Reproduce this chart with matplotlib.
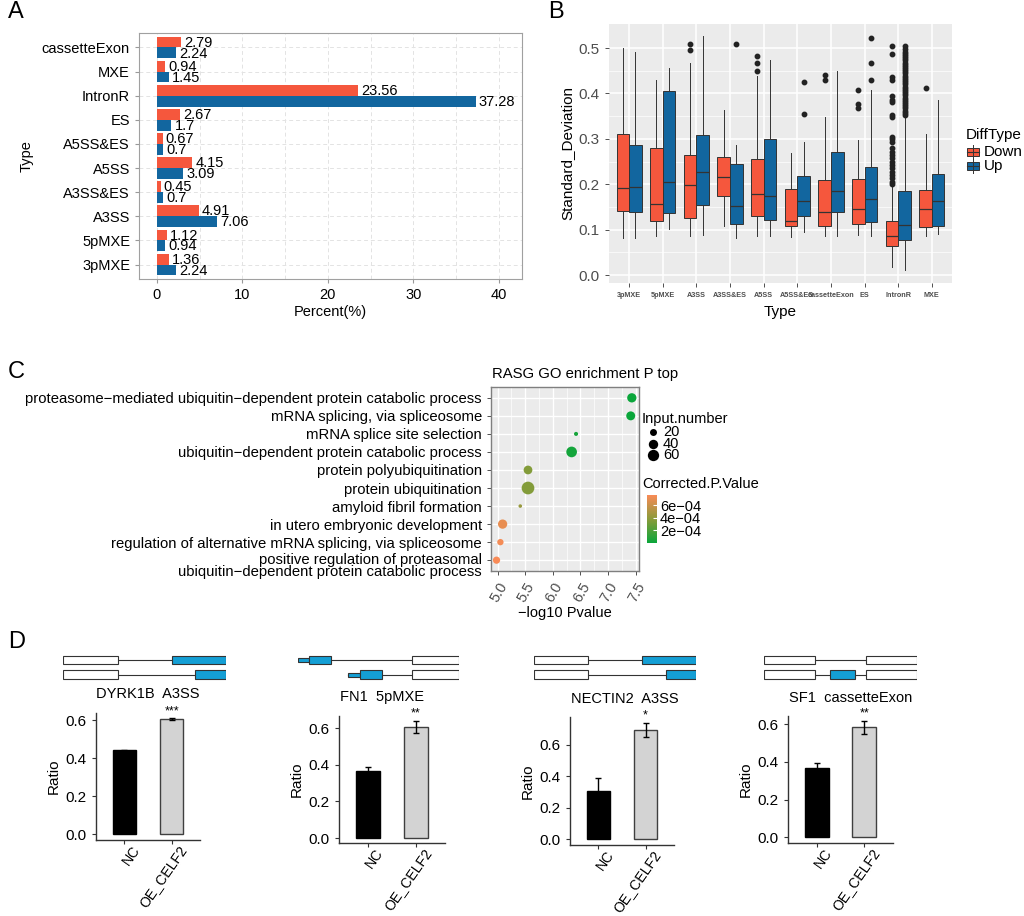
import matplotlib
matplotlib.use('Agg')
import matplotlib.pyplot as plt
import numpy as np
from matplotlib.patches import Rectangle
from matplotlib.colors import LinearSegmentedColormap, Normalize
from matplotlib.cm import ScalarMappable
from matplotlib.transforms import ScaledTranslation

plt.rcParams['font.family'] = ['Liberation Sans', 'DejaVu Sans']

W, H = 1024, 916
RED = '#F5573D'
BLUE = '#12669F'
GENE_BLUE = '#149FD5'

# ---------------- data ----------------
# panel A
types_a = ['3pMXE', '5pMXE', 'A3SS', 'A3SS&ES', 'A5SS', 'A5SS&ES', 'ES', 'IntronR', 'MXE', 'cassetteExon']
pct_down = [1.36, 1.12, 4.91, 0.45, 4.15, 0.67, 2.67, 23.56, 0.94, 2.79]
pct_up = [2.24, 0.94, 7.06, 0.7, 3.09, 0.7, 1.7, 37.28, 1.45, 2.24]

# panel B  (whislo, q1, med, q3, whishi)
types_b = ['3pMXE', '5pMXE', 'A3SS', 'A3SS&ES', 'A5SS', 'A5SS&ES', 'cassetteExon', 'ES', 'IntronR', 'MXE']
sd_down = [(0.081, 0.141, 0.192, 0.311, 0.500),
           (0.085, 0.118, 0.156, 0.280, 0.430),
           (0.087, 0.126, 0.199, 0.264, 0.467),
           (0.109, 0.173, 0.217, 0.259, 0.363),
           (0.087, 0.129, 0.178, 0.255, 0.439),
           (0.083, 0.109, 0.119, 0.189, 0.269),
           (0.085, 0.109, 0.138, 0.209, 0.348),
           (0.088, 0.112, 0.146, 0.211, 0.298),
           (0.017, 0.065, 0.087, 0.119, 0.199),
           (0.087, 0.106, 0.145, 0.187, 0.311)]
sd_up = [(0.081, 0.139, 0.193, 0.287, 0.491),
         (0.101, 0.136, 0.206, 0.405, 0.457),
         (0.089, 0.154, 0.227, 0.308, 0.527),
         (0.081, 0.113, 0.151, 0.244, 0.287),
         (0.085, 0.122, 0.175, 0.300, 0.474),
         (0.095, 0.131, 0.163, 0.218, 0.294),
         (0.085, 0.139, 0.184, 0.270, 0.450),
         (0.085, 0.116, 0.167, 0.239, 0.407),
         (0.010, 0.078, 0.111, 0.186, 0.349),
         (0.091, 0.109, 0.162, 0.222, 0.386)]
out_down = {'A3SS': [0.510, 0.496],
            'A5SS': [0.482, 0.468, 0.449],
            'cassetteExon': [0.441, 0.430],
            'ES': [0.407, 0.377, 0.369],
            'IntronR': [0.504, 0.487, 0.436, 0.430, 0.394, 0.386, 0.382, 0.353, 0.348,
                        0.305, 0.299, 0.294, 0.280, 0.272, 0.265, 0.257, 0.250, 0.242,
                        0.235, 0.228, 0.220, 0.213, 0.206, 0.200],
            'MXE': [0.412]}
out_up = {'A3SS&ES': [0.510],
          'A5SS&ES': [0.425, 0.354],
          'ES': [0.523, 0.468, 0.430],
          'IntronR': [0.505, 0.497, 0.492, 0.487, 0.482, 0.478, 0.473, 0.468, 0.463,
                      0.458, 0.454, 0.449, 0.444, 0.439, 0.434, 0.430, 0.425, 0.420,
                      0.415, 0.410, 0.406, 0.401, 0.396, 0.391, 0.386, 0.382, 0.377,
                      0.372, 0.367, 0.362, 0.358, 0.353]}

# panel C
go_terms = ['proteasome\u2212mediated ubiquitin\u2212dependent protein catabolic process',
            'mRNA splicing, via spliceosome',
            'mRNA splice site selection',
            'ubiquitin\u2212dependent protein catabolic process',
            'protein polyubiquitination',
            'protein ubiquitination',
            'amyloid fibril formation',
            'in utero embryonic development',
            'regulation of alternative mRNA splicing, via spliceosome',
            'positive regulation of proteasomal\nubiquitin\u2212dependent protein catabolic process']
go_logp = [7.43, 7.41, 6.42, 6.34, 5.55, 5.55, 5.41, 5.09, 5.05, 4.98]
go_input = [39, 36, 4, 53, 34, 77, 2, 39, 16, 22]
go_padj = [0.000002, 0.000003, 0.00004, 0.00003, 0.00036, 0.00036, 0.00043, 0.00070, 0.00074, 0.00076]

# panel D
groups = ['NC', 'OE_CELF2']
genes = ['DYRK1B', 'FN1', 'NECTIN2', 'SF1']
events = ['A3SS', '5pMXE', 'A3SS', 'cassetteExon']
ratio_mean = [[0.441, 0.604], [0.367, 0.607], [0.305, 0.693], [0.367, 0.584]]
ratio_err = [[0.003, 0.005], [0.019, 0.033], [0.085, 0.047], [0.026, 0.033]]
signif = ['***', '**', '*', '**']
# exon models: rows of (start, end, kind) in px along the gene
gene_models = [
    [[(0, 55, 'w'), (109, 163, 'b')], [(0, 55, 'w'), (132, 163, 'b')]],
    [[(0, 11, 'u'), (11, 33, 'b'), (114, 161, 'w')], [(50, 62, 'u'), (62, 84, 'b'), (114, 161, 'w')]],
    [[(0, 54, 'w'), (108, 162, 'b')], [(0, 54, 'w'), (132, 162, 'b')]],
    [[(0, 51, 'w'), (102, 153, 'w')], [(0, 51, 'w'), (66, 91, 'b'), (102, 153, 'w')]],
]


def box(x0, y0, x1, y1):
    return [x0 / W, 1 - y1 / H, (x1 - x0) / W, (y1 - y0) / H]


def px_shift(dx, dy):
    return ScaledTranslation(dx / 72, dy / 72, fig.dpi_scale_trans)


fig = plt.figure(figsize=(W / 100, H / 100), dpi=100)
ov = fig.add_axes([0, 0, 1, 1])
ov.set_xlim(0, W)
ov.set_ylim(H, 0)
ov.axis('off')

for lab, (x, y) in zip('ABCD', [(8, 12), (548, 12), (8, 372), (8, 642)]):
    ov.text(x, y, lab, fontsize=17, ha='left', va='center')

# ---------------- panel A ----------------
axA = fig.add_axes(box(139, 33, 522, 279))
ya = np.arange(len(types_a))
axA.barh(ya + 0.225, pct_down, height=0.45, color=RED, zorder=2)
axA.barh(ya - 0.225, pct_up, height=0.45, color=BLUE, zorder=2)
for y, d, u in zip(ya, pct_down, pct_up):
    axA.text(d + 0.35, y + 0.2, f'{d:g}', va='center', ha='left', fontsize=10.5)
    axA.text(u + 0.35, y - 0.25, f'{u:g}', va='center', ha='left', fontsize=10.5)
axA.set_xlim(-2.1, 42.7)
axA.set_ylim(-0.6, 9.6)
axA.set_yticks(ya)
axA.set_yticklabels(types_a, fontsize=10.5)
axA.set_xticks([0, 10, 20, 30, 40])
axA.set_xticks([5, 15, 25, 35], minor=True)
axA.tick_params(axis='x', labelsize=10.5)
axA.tick_params(which='both', length=3, color='#999999')
axA.tick_params(which='minor', length=0)
axA.grid(True, which='both', linestyle=(0, (4, 3)), color='#E3E3E3', lw=0.7, zorder=0)
for s in axA.spines.values():
    s.set_color('#A0A0A0')
axA.set_xlabel('Percent(%)', fontsize=10.5, labelpad=2)
axA.set_ylabel('Type', fontsize=10.5, labelpad=6)
ov.add_patch(Rectangle((457, 188), 11, 10, color=RED))
ov.add_patch(Rectangle((457, 203), 11, 10, color=BLUE))
ov.text(475, 193, 'Down', fontsize=10.5, va='center')
ov.text(475, 208, 'Up', fontsize=10.5, va='center')

# ---------------- panel B ----------------
axB = fig.add_axes(box(609, 24, 952, 283))
axB.set_facecolor('#EBEBEB')


def stats(vals, fl):
    lo, q1, med, q3, hi = vals
    return dict(whislo=lo, q1=q1, med=med, q3=q3, whishi=hi, fliers=fl)


pos = np.arange(1, len(types_b) + 1)
flierprops = dict(marker='o', markerfacecolor='#222222', markeredgecolor='#222222', markersize=3.2)
for vals_list, outs, off, col in [(sd_down, out_down, -0.1875, RED), (sd_up, out_up, 0.1875, BLUE)]:
    st = [stats(v, outs.get(t, [])) for v, t in zip(vals_list, types_b)]
    axB.bxp(st, positions=pos + off, widths=0.375, patch_artist=True, showcaps=False,
            boxprops=dict(facecolor=col, edgecolor='#333333', lw=0.7),
            medianprops=dict(color='#333333', lw=0.9),
            whiskerprops=dict(color='#333333', lw=0.7),
            flierprops=flierprops, manage_ticks=False, zorder=3)
axB.set_xlim(0.4, 10.6)
axB.set_ylim(-0.0176, 0.553)
axB.set_xticks(pos)
axB.set_xticklabels(types_b, fontsize=5.2, fontweight='bold', color='#4D4D4D')
axB.set_yticks([0, 0.1, 0.2, 0.3, 0.4, 0.5])
axB.set_yticks([0.05, 0.15, 0.25, 0.35, 0.45], minor=True)
axB.set_yticklabels(['0.0', '0.1', '0.2', '0.3', '0.4', '0.5'], fontsize=11, color='#4D4D4D')
axB.tick_params(which='major', length=3, color='#333333', width=0.6)
axB.tick_params(which='minor', length=0)
axB.grid(True, which='major', color='white', lw=1.1, zorder=0)
axB.grid(True, which='minor', axis='y', color='white', lw=0.5, zorder=0)
axB.set_axisbelow(True)
for s in axB.spines.values():
    s.set_visible(False)
axB.set_xlabel('Type', fontsize=11, labelpad=4)
axB.set_ylabel('Standard_Deviation', fontsize=11, labelpad=3)
ov.text(966, 135, 'DiffType', fontsize=11, va='center')
for yy, col, lab in [(151.5, RED, 'Down'), (166, BLUE, 'Up')]:
    ov.plot([973, 973], [yy - 7, yy + 7], color='#333333', lw=0.7)
    ov.add_patch(Rectangle((967, yy - 4), 12, 8, facecolor=col, edgecolor='#333333', lw=0.7))
    ov.plot([967, 979], [yy, yy], color='#333333', lw=0.8)
    ov.text(984, yy, lab, fontsize=11, va='center')

# ---------------- panel C ----------------
axC = fig.add_axes(box(491, 387, 639, 571))
axC.set_facecolor('#EBEBEB')
cmap = LinearSegmentedColormap.from_list('gp', ['#0BA63B', '#8A9B3A', '#F98B57'])
norm = Normalize(vmin=min(go_padj), vmax=max(go_padj))


def dot_size(n):
    return 4.5 + 1.03 * np.asarray(n)


yc = np.arange(len(go_terms))[::-1]
axC.scatter(go_logp, yc, s=dot_size(go_input), c=go_padj, cmap=cmap, norm=norm, zorder=3, linewidths=0)
axC.set_xlim(4.88, 7.56)
axC.set_ylim(-0.6, 9.6)
axC.tick_params(which='major', length=3, color='#333333', width=0.6)
axC.tick_params(which='minor', length=0)
axC.set_yticks(yc)
axC.set_yticklabels(go_terms, fontsize=10.7, linespacing=0.8)
# the wrapped last label sits a little lower, as in the original
lastlab = axC.get_yticklabels()[-1]
lastlab.set_transform(lastlab.get_transform() + px_shift(0, -4))
axC.set_xticks([5.0, 5.5, 6.0, 6.5, 7.0, 7.5])
axC.set_xticks([5.25, 5.75, 6.25, 6.75, 7.25], minor=True)
axC.set_xticklabels(['5.0', '5.5', '6.0', '6.5', '7.0', '7.5'], fontsize=10.5, color='#4D4D4D',
                    rotation=60, ha='right', va='top', rotation_mode='anchor')
axC.grid(True, which='major', color='white', lw=1.0, zorder=0)
axC.grid(True, which='minor', axis='x', color='white', lw=0.5, zorder=0)
axC.set_axisbelow(True)
for s in axC.spines.values():
    s.set_color('#7F7F7F')
    s.set_linewidth(1.0)
axC.set_xlabel('\u2212log10 Pvalue', fontsize=10.5, labelpad=1)
ov.text(492, 374, 'RASG GO enrichment P top', fontsize=10.7, va='center', ha='left')
ov.text(642, 419, 'Input.number', fontsize=10.5, va='center', ha='left')
for n, yy in zip([20, 40, 60], [432, 443.5, 455]):
    ov.scatter([653], [yy], s=dot_size(n), color='black', linewidths=0)
    ov.text(663, yy, str(n), fontsize=10.5, va='center', ha='left')
ov.text(642, 484, 'Corrected.P.Value', fontsize=10.5, va='center', ha='left')
cax = fig.add_axes(box(647, 495, 657, 543))
cb = fig.colorbar(ScalarMappable(norm=norm, cmap=cmap), cax=cax)
cb.outline.set_visible(False)
cb.set_ticks([0.0002, 0.0004, 0.0006])
cb.set_ticklabels(['2e\u221204', '4e\u221204', '6e\u221204'])
cax.tick_params(length=3, color='white', direction='in', labelsize=10.5, pad=2)

# ---------------- panel D ----------------
d_axes = [(96, 713, 200, 840), (339, 716, 445, 843), (570, 717, 674, 845), (788, 716, 893, 843)]
d_ylim = [(-0.03, 0.637), (-0.027, 0.667), (-0.038, 0.776), (-0.030, 0.644)]
gene_x0 = [63, 298, 534, 764]
title_xy = [(148, 694), (382, 697), (625, 699), (851, 698)]
for k in range(4):
    ax = fig.add_axes(box(*d_axes[k]))
    xb = np.arange(1, 3)
    ax.bar(xb, ratio_mean[k], width=0.5, color=['black', '#D3D3D3'],
           edgecolor=['black', '#3F3F3F'], lw=1.0, zorder=2)
    ax.errorbar(xb, ratio_mean[k], yerr=ratio_err[k], fmt='none', ecolor='black',
                elinewidth=1.0, capsize=2.5, capthick=1.0, zorder=3)
    top = ratio_mean[k][1] + ratio_err[k][1]
    ax.annotate(signif[k], (2, top), xytext=(0, 1), textcoords='offset points',
                ha='center', va='bottom', fontsize=9)
    ax.set_xlim(0.4, 2.6)
    ax.set_ylim(*d_ylim[k])
    ax.tick_params(length=3, color='#333333', width=0.8)
    ax.tick_params(axis='x', pad=2)
    ax.set_yticks([0, 0.2, 0.4, 0.6])
    ax.set_yticklabels(['0.0', '0.2', '0.4', '0.6'], fontsize=11)
    ax.set_xticks(xb)
    ax.set_xticklabels(groups, fontsize=10.2, rotation=55, ha='right', va='center',
                       rotation_mode='anchor')
    for t in ax.get_xticklabels():
        t.set_transform(t.get_transform() + px_shift(9, 0))
    for s in ['top', 'right']:
        ax.spines[s].set_visible(False)
    for s in ['left', 'bottom']:
        ax.spines[s].set_color('#333333')
        ax.spines[s].set_linewidth(1.0)
    ax.set_ylabel('Ratio', fontsize=11, labelpad=4)
    ov.text(title_xy[k][0], title_xy[k][1], f'{genes[k]}  {events[k]}', fontsize=10.5,
            ha='center', va='center')

    # gene structure
    model = gene_models[k]
    total = max(e for row in model for (_, e, _) in row)
    gx = fig.add_axes(box(gene_x0[k], 650, gene_x0[k] + total, 685))
    gx.set_xlim(0, total)
    gx.set_ylim(35, 0)
    gx.axis('off')
    for row, yy in zip(model, [10, 24.5]):
        s0 = min(s for (s, _, _) in row)
        e1 = max(e for (_, e, _) in row)
        gx.plot([s0, e1], [yy, yy], color='#333333', lw=0.8, zorder=1)
        for (s, e, kind) in row:
            h = 4 if kind == 'u' else 8.5
            fc = 'white' if kind == 'w' else GENE_BLUE
            gx.add_patch(Rectangle((s, yy - h / 2), e - s, h, facecolor=fc,
                                   edgecolor='#333333', lw=0.8, zorder=2))

fig.savefig('out.png', dpi=100)
